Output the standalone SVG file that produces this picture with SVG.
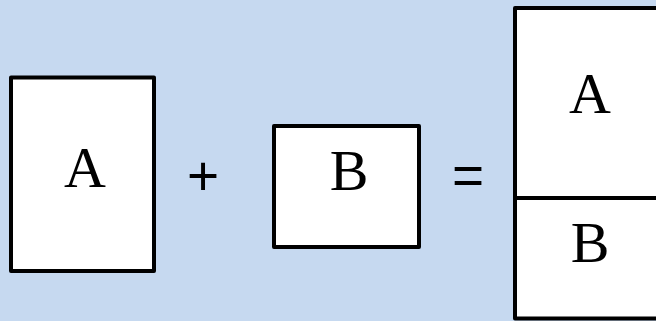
<svg xmlns="http://www.w3.org/2000/svg" width="656" height="321" viewBox="0 0 656 321">
<style>
.box{fill:#ffffff;stroke:#000000;stroke-width:4;stroke-linejoin:round}
.lbl{font-family:"Liberation Serif",serif;font-size:58px;fill:#000;text-anchor:middle}
.op{font-family:"Liberation Sans",Arial,sans-serif;font-size:55px;fill:#000;text-anchor:middle}
</style>
<rect x="0" y="0" width="656" height="321" fill="#c6d9f0"/>
<g id="boxA">
<rect class="box" x="11" y="77.5" width="143" height="193.5"/>
<text class="lbl" x="85" y="187">A</text>
</g>
<g id="plus"><text class="op" x="203" y="194.5">+</text></g>
<g id="boxB">
<rect class="box" x="274" y="126" width="145" height="121"/>
<text class="lbl" x="349" y="190">B</text>
</g>
<g id="equals"><text class="op" x="468" y="194">=</text></g>
<g id="combined">
<rect class="box" x="515" y="8" width="150" height="310.5"/>
<line x1="513" y1="198" x2="660" y2="198" stroke="#000" stroke-width="4"/>
<text class="lbl" x="590" y="113">A</text>
<text class="lbl" x="590" y="262">B</text>
</g>
<g id="connectors"></g>
</svg>
